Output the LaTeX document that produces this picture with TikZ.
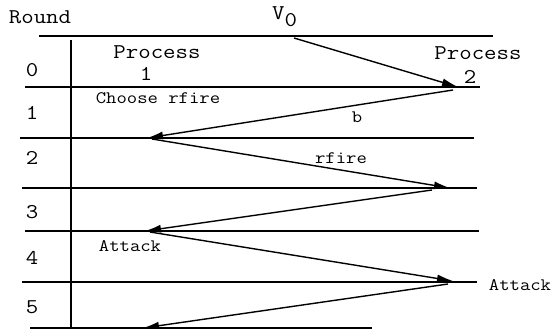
\documentclass[tikz,border=0pt]{standalone}
\usetikzlibrary{arrows.meta}
\tikzset{
  rule/.style={line width=1.5pt},
  msg/.style={line width=1.4pt,-{Latex[length=16pt,width=8pt]}},
  big/.style={font=\ttfamily\fontsize{21}{21}\selectfont,inner sep=0pt,xscale=1.15,transform shape},
  small/.style={font=\ttfamily\fontsize{17.5}{17.5}\selectfont,inner sep=0pt,xscale=1.15,transform shape}
}
\begin{document}
\begin{tikzpicture}[x=1pt,y=-1pt]
\useasboundingbox (0,0) rectangle (554,329);
% round lines
\draw[rule] (39,36) -- (493,36);
\draw[rule] (25,87) -- (480,87);
\draw[rule] (20,138) -- (474,138);
\draw[rule] (22,188) -- (477,188);
\draw[rule] (25,231) -- (479,231);
\draw[rule] (22,282) -- (477,282);
\draw[rule] (30,328) -- (372,328);
\draw[rule] (71,40) -- (71,329);
% labels
\node[big] (round) at (40,17) {Round};
\node[big] (r0) at (32,70) {0};
\node[big] (r1) at (32,113) {1};
\node[big] (r2) at (32,158) {2};
\node[big] (r3) at (32,212) {3};
\node[big] (r4) at (32,258) {4};
\node[big] (r5) at (32,307) {5};
\node[big] (p1) at (157,52) {Process};
\node[big] (p1n) at (146,74) {1};
\node[big] (p2) at (478,53) {Process};
\node[big] (p2n) at (470,77) {2};
\node[big,anchor=base west] (v) at (272,20) {V\raisebox{-7pt}{0}};
\node[small] (choose) at (158,98) {Choose rfire};
\node[small] (b) at (357,117) {b};
\node[small] (rfire) at (341,158) {rfire};
\node[small] (att1) at (130,246) {Attack};
\node[small] (att2) at (520,285) {Attack};
% message endpoints
\coordinate (a0) at (294,38);
\coordinate (a1) at (458,87);
\coordinate (b0) at (453,90);
\coordinate (b1) at (147,138);
\coordinate (c0) at (152,139);
\coordinate (c1) at (450,188);
\coordinate (d0) at (432,190);
\coordinate (d1) at (145,231);
\coordinate (e0) at (150,232);
\coordinate (e1) at (453,281);
\coordinate (f0) at (448,284);
\coordinate (f1) at (143,328);
\draw[msg] (a0) -- (a1);
\draw[msg] (b0) -- (b1);
\draw[msg] (c0) -- (c1);
\draw[msg] (d0) -- (d1);
\draw[msg] (e0) -- (e1);
\draw[msg] (f0) -- (f1);
\end{tikzpicture}
\end{document}
